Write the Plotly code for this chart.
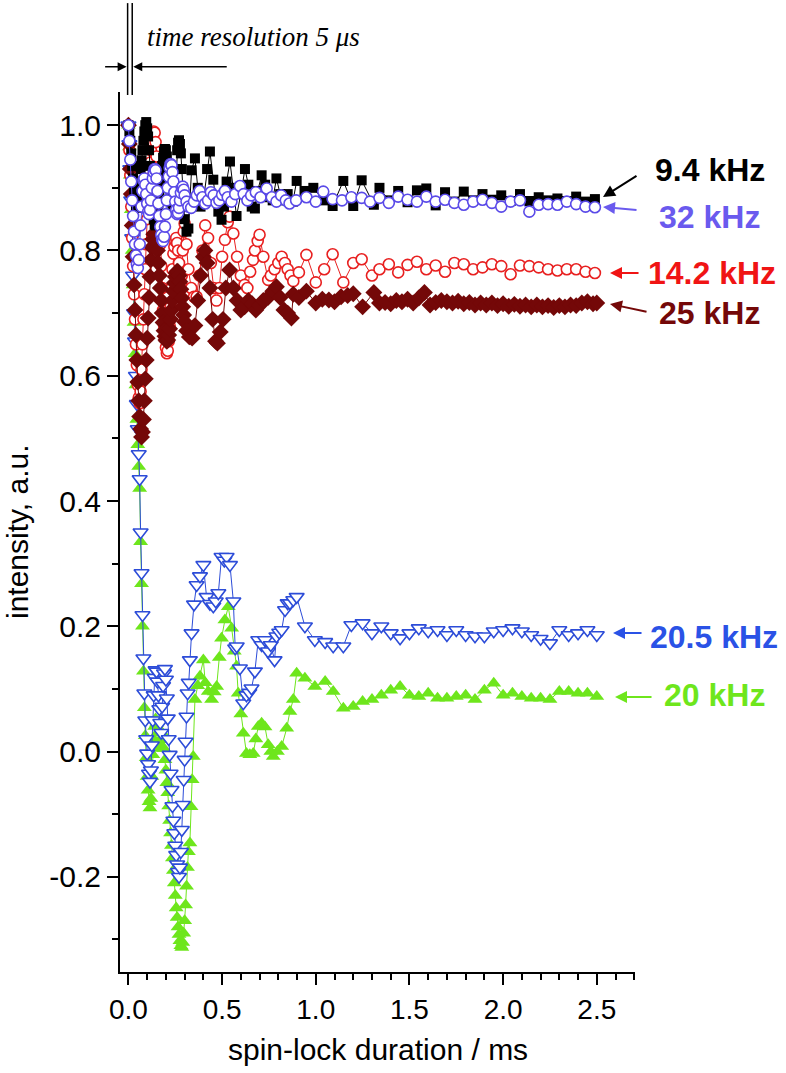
import plotly.graph_objects as go

# ---------------- data (time in ms, normalised intensity) ----------------
T_DENSE = [0.000, 0.005, 0.010, 0.015, 0.020, 0.025, 0.030, 0.035, 0.040, 0.045,
           0.050, 0.055, 0.060, 0.065, 0.070, 0.075, 0.080, 0.085, 0.090, 0.095,
           0.100, 0.105, 0.110, 0.115, 0.120, 0.125, 0.130, 0.135, 0.140, 0.145,
           0.150, 0.155, 0.160, 0.165, 0.170, 0.175, 0.180, 0.185, 0.190, 0.195,
           0.200, 0.205, 0.210, 0.215, 0.220, 0.225, 0.230, 0.235, 0.240, 0.245,
           0.250, 0.255, 0.260, 0.265, 0.270, 0.275, 0.280, 0.285, 0.290, 0.295, 0.300]

# 9.4 kHz (black squares)
K94_DENSE = [1.000, 0.990, 0.975, 0.955, 0.935, 0.915, 0.897, 0.880, 0.870, 0.868,
             0.875, 0.890, 0.910, 0.930, 0.944, 0.960, 0.975, 0.990, 1.000, 1.005,
             0.995, 0.982, 0.960, 0.935, 0.910, 0.885, 0.865, 0.850, 0.842, 0.840,
             0.848, 0.860, 0.875, 0.890, 0.905, 0.920, 0.935, 0.948, 0.958, 0.962,
             0.960, 0.950, 0.935, 0.920, 0.905, 0.890, 0.878, 0.870, 0.868, 0.875,
             0.900, 0.930, 0.960, 0.972, 0.976, 0.970, 0.955, 0.930, 0.900, 0.870, 0.850]
K94_T = [0.310, 0.320, 0.337, 0.355, 0.370, 0.385, 0.400, 0.420, 0.435, 0.453,
         0.466, 0.480, 0.497, 0.510, 0.524, 0.542, 0.560, 0.577, 0.600, 0.622,
         0.640, 0.658, 0.675, 0.690, 0.711, 0.730, 0.750, 0.770, 0.790, 0.810,
         0.830, 0.850, 0.878, 0.898, 0.940, 0.987, 1.040, 1.090, 1.147, 1.200,
         1.245, 1.310, 1.340, 1.390, 1.440, 1.490, 1.540, 1.590, 1.640, 1.690,
         1.740, 1.790, 1.840, 1.890, 1.940, 1.990, 2.040, 2.090, 2.140, 2.190,
         2.240, 2.290, 2.340, 2.390, 2.440, 2.490]
K94_V = [0.830, 0.835, 0.928, 0.947, 0.900, 0.870, 0.880, 0.930, 0.958, 0.913,
         0.880, 0.862, 0.849, 0.870, 0.910, 0.942, 0.900, 0.855, 0.890, 0.930,
         0.905, 0.870, 0.867, 0.895, 0.920, 0.905, 0.885, 0.880, 0.915, 0.890,
         0.880, 0.890, 0.878, 0.911, 0.895, 0.900, 0.880, 0.871, 0.911, 0.871,
         0.912, 0.873, 0.900, 0.880, 0.895, 0.877, 0.896, 0.899, 0.872, 0.893,
         0.878, 0.894, 0.880, 0.890, 0.881, 0.888, 0.879, 0.890, 0.879, 0.885,
         0.880, 0.883, 0.879, 0.886, 0.878, 0.882]

# 32 kHz (violet open circles)
K32_DENSE = [1.000, 0.975, 0.945, 0.910, 0.880, 0.855, 0.830, 0.810, 0.792, 0.778,
             0.772, 0.785, 0.810, 0.840, 0.870, 0.895, 0.912, 0.915, 0.905, 0.890,
             0.875, 0.862, 0.858, 0.865, 0.880, 0.900, 0.915, 0.925, 0.930, 0.928,
             0.915, 0.895, 0.875, 0.855, 0.838, 0.825, 0.818, 0.815, 0.822, 0.838,
             0.858, 0.880, 0.900, 0.918, 0.932, 0.938, 0.936, 0.925, 0.910, 0.893,
             0.878, 0.865, 0.858, 0.860, 0.868, 0.880, 0.892, 0.900, 0.902, 0.897, 0.888]
K32_T = [0.310, 0.320, 0.335, 0.350, 0.365, 0.380, 0.395, 0.410, 0.425, 0.440,
         0.455, 0.470, 0.485, 0.500, 0.515, 0.530, 0.550, 0.570, 0.595, 0.615,
         0.635, 0.655, 0.680, 0.705, 0.738, 0.765, 0.790, 0.815, 0.840, 0.860,
         0.895, 0.950, 1.000, 1.040, 1.090, 1.140, 1.190, 1.245, 1.290, 1.340,
         1.390, 1.440, 1.490, 1.540, 1.590, 1.640, 1.690, 1.740, 1.790, 1.840,
         1.890, 1.940, 1.990, 2.040, 2.090, 2.140, 2.190, 2.240, 2.290, 2.340,
         2.390, 2.440, 2.490]
K32_V = [0.878, 0.870, 0.868, 0.878, 0.888, 0.895, 0.885, 0.875, 0.880, 0.893,
         0.888, 0.876, 0.880, 0.889, 0.895, 0.885, 0.878, 0.890, 0.903, 0.890,
         0.880, 0.888, 0.893, 0.885, 0.899, 0.885, 0.878, 0.888, 0.880, 0.875,
         0.880, 0.885, 0.878, 0.894, 0.882, 0.880, 0.885, 0.884, 0.878, 0.884,
         0.876, 0.886, 0.881, 0.878, 0.886, 0.878, 0.881, 0.876, 0.873, 0.878,
         0.881, 0.876, 0.870, 0.878, 0.880, 0.862, 0.873, 0.874, 0.873, 0.878,
         0.874, 0.870, 0.869]

# 14.2 kHz (red open circles)
K142_DENSE = [1.000, 0.960, 0.920, 0.870, 0.820, 0.775, 0.730, 0.690, 0.650, 0.617,
              0.585, 0.565, 0.556, 0.575, 0.610, 0.650, 0.690, 0.730, 0.770, 0.810,
              0.850, 0.885, 0.915, 0.940, 0.960, 0.975, 0.985, 0.990, 0.988, 0.973,
              0.950, 0.920, 0.885, 0.850, 0.810, 0.775, 0.740, 0.705, 0.680, 0.660,
              0.645, 0.636, 0.640, 0.655, 0.680, 0.710, 0.740, 0.770, 0.795, 0.806,
              0.815, 0.820, 0.812, 0.800, 0.780, 0.760, 0.745, 0.760, 0.800, 0.830, 0.843]
K142_T = [0.310, 0.320, 0.335, 0.350, 0.364, 0.380, 0.395, 0.410, 0.425, 0.440,
          0.455, 0.470, 0.485, 0.500, 0.515, 0.530, 0.540, 0.560, 0.580, 0.600,
          0.620, 0.635, 0.650, 0.665, 0.675, 0.690, 0.700, 0.720, 0.746, 0.760,
          0.780, 0.800, 0.818, 0.835, 0.850, 0.865, 0.880, 0.910, 0.950, 1.000,
          1.045, 1.090, 1.147, 1.200, 1.245, 1.300, 1.340,
          1.390, 1.440, 1.490, 1.540, 1.590, 1.640, 1.690, 1.740, 1.790, 1.840,
          1.890, 1.940, 1.990, 2.040, 2.090, 2.140, 2.190, 2.240, 2.290, 2.340,
          2.390, 2.440, 2.490]
K142_V = [0.810, 0.770, 0.740, 0.726, 0.726, 0.760, 0.800, 0.840, 0.820, 0.780,
          0.740, 0.720, 0.740, 0.790, 0.817, 0.845, 0.854, 0.827, 0.790, 0.760,
          0.745, 0.740, 0.766, 0.785, 0.800, 0.815, 0.825, 0.790, 0.753, 0.760,
          0.770, 0.780, 0.790, 0.780, 0.770, 0.760, 0.751, 0.765, 0.793, 0.749,
          0.770, 0.794, 0.749, 0.780, 0.786, 0.760, 0.770,
          0.778, 0.765, 0.777, 0.782, 0.770, 0.776, 0.766, 0.780, 0.778, 0.770,
          0.773, 0.778, 0.775, 0.762, 0.776, 0.775, 0.773, 0.770, 0.768, 0.770,
          0.770, 0.766, 0.764]

# 25 kHz (dark red diamonds)
K25_DENSE = [1.000, 0.970, 0.930, 0.890, 0.840, 0.790, 0.745, 0.705, 0.665, 0.625,
             0.590, 0.560, 0.535, 0.515, 0.502, 0.510, 0.530, 0.560, 0.595, 0.625,
             0.660, 0.692, 0.725, 0.758, 0.785, 0.805, 0.818, 0.826, 0.828, 0.825,
             0.815, 0.800, 0.780, 0.760, 0.740, 0.720, 0.700, 0.685, 0.672, 0.663,
             0.657, 0.655, 0.657, 0.665, 0.675, 0.690, 0.705, 0.720, 0.735, 0.748,
             0.758, 0.764, 0.767, 0.766, 0.760, 0.750, 0.738, 0.724, 0.710, 0.697, 0.686]
K25_T = [0.310, 0.325, 0.340, 0.355, 0.370, 0.385, 0.400, 0.408, 0.420, 0.435,
         0.450, 0.465, 0.475, 0.490, 0.505, 0.520, 0.540, 0.560, 0.580, 0.600,
         0.620, 0.640, 0.660, 0.680, 0.700, 0.720, 0.745, 0.770, 0.790, 0.810,
         0.830, 0.850, 0.870, 0.880, 0.910, 0.950, 1.000, 1.035, 1.070, 1.100,
         1.135, 1.170, 1.200, 1.250, 1.310, 1.340,
         1.370, 1.400, 1.430, 1.460, 1.490, 1.520, 1.550, 1.580, 1.610, 1.640,
         1.670, 1.700, 1.730, 1.760, 1.790, 1.820, 1.850, 1.880, 1.910, 1.940,
         1.970, 2.000, 2.030, 2.060, 2.090, 2.120, 2.150, 2.180, 2.210, 2.240,
         2.270, 2.300, 2.330, 2.360, 2.390, 2.420, 2.450, 2.480, 2.500]
K25_V = [0.672, 0.662, 0.660, 0.680, 0.720, 0.760, 0.790, 0.800, 0.780, 0.740,
         0.690, 0.655, 0.652, 0.670, 0.690, 0.740, 0.769, 0.740, 0.720, 0.705,
         0.710, 0.720, 0.715, 0.705, 0.712, 0.720, 0.725, 0.735, 0.742, 0.725,
         0.705, 0.700, 0.692, 0.730, 0.725, 0.735, 0.716, 0.722, 0.721, 0.718,
         0.726, 0.728, 0.731, 0.710, 0.733, 0.716,
         0.717, 0.715, 0.720, 0.718, 0.722, 0.716, 0.724, 0.733, 0.713, 0.717,
         0.720, 0.718, 0.716, 0.719, 0.715, 0.717, 0.713, 0.716, 0.713, 0.716,
         0.712, 0.715, 0.711, 0.714, 0.711, 0.713, 0.710, 0.713, 0.710, 0.712,
         0.709, 0.712, 0.710, 0.713, 0.712, 0.716, 0.718, 0.715, 0.716]

# 20.5 kHz (blue open down-triangles)
K205_DENSE = [1.000, 0.970, 0.930, 0.880, 0.820, 0.760, 0.700, 0.655, 0.600, 0.555,
              0.515, 0.475, 0.435, 0.350, 0.285, 0.218, 0.149, 0.093, 0.050, 0.020,
              -0.003, -0.020, -0.035, -0.048, -0.030, 0.010, 0.050, 0.090, 0.118, 0.130,
              0.128, 0.112, 0.090, 0.068, 0.046, 0.030, 0.072, 0.105, 0.125, 0.132,
              0.115, 0.085, 0.053, 0.020, -0.005, -0.035, -0.061, -0.087, -0.110, -0.130,
              -0.150, -0.165, -0.180, -0.192, -0.200, -0.185, -0.160, -0.125, -0.085, -0.045, -0.013]
K205_T = [0.305, 0.310, 0.316, 0.322, 0.328, 0.337, 0.350, 0.364, 0.382, 0.400,
          0.417, 0.435, 0.453, 0.466, 0.480, 0.497, 0.512, 0.524, 0.542, 0.560,
          0.570, 0.578, 0.595, 0.613, 0.630, 0.645, 0.657, 0.675, 0.693, 0.711,
          0.729, 0.745, 0.760, 0.780, 0.790, 0.805, 0.818, 0.836, 0.850, 0.862,
          0.880, 0.898, 0.942, 0.995, 1.050, 1.093, 1.147, 1.190, 1.250, 1.300,
          1.350, 1.400, 1.450, 1.500, 1.550, 1.600, 1.650, 1.700, 1.750, 1.800,
          1.850, 1.900, 1.950, 2.000, 2.050, 2.100, 2.150, 2.200, 2.250, 2.300,
          2.350, 2.400, 2.450, 2.500]
K205_V = [0.016, 0.056, 0.093, 0.110, 0.146, 0.189, 0.235, 0.266, 0.280, 0.298,
          0.247, 0.236, 0.232, 0.240, 0.253, 0.311, 0.305, 0.311, 0.298, 0.240,
          0.165, 0.168, 0.133, 0.077, 0.090, 0.094, 0.101, 0.128, 0.178, 0.170,
          0.178, 0.160, 0.170, 0.146, 0.184, 0.190, 0.194, 0.226, 0.237, 0.237,
          0.242, 0.247, 0.200, 0.178, 0.175, 0.168, 0.168, 0.202, 0.205, 0.189,
          0.200, 0.189, 0.181, 0.189, 0.197, 0.192, 0.194, 0.186, 0.194, 0.186,
          0.184, 0.184, 0.192, 0.194, 0.197, 0.192, 0.186, 0.180, 0.173, 0.194,
          0.186, 0.189, 0.194, 0.186]

# 20 kHz (green filled up-triangles)
K20_DENSE = [1.000, 0.965, 0.920, 0.865, 0.800, 0.745, 0.685, 0.635, 0.585, 0.530,
             0.490, 0.455, 0.420, 0.335, 0.268, 0.200, 0.128, 0.070, 0.025, -0.010,
             -0.040, -0.062, -0.080, -0.090, -0.075, -0.040, -0.005, 0.020, 0.040, 0.052,
             0.045, 0.030, 0.015, 0.005, 0.010, 0.019, 0.030, 0.020, 0.005, -0.013,
             -0.030, -0.050, -0.066, -0.087, -0.110, -0.130, -0.150, -0.170, -0.190, -0.210,
             -0.230, -0.250, -0.265, -0.280, -0.292, -0.302, -0.310, -0.313, -0.305, -0.290, -0.270]
K20_T = [0.305, 0.310, 0.315, 0.320, 0.328, 0.334, 0.340, 0.346, 0.355, 0.370,
         0.382, 0.400, 0.410, 0.426, 0.444, 0.458, 0.471, 0.485, 0.497, 0.515,
         0.533, 0.551, 0.565, 0.577, 0.586, 0.600, 0.613, 0.630, 0.648, 0.666,
         0.680, 0.693, 0.711, 0.729, 0.746, 0.760, 0.773, 0.795, 0.818, 0.845,
         0.862, 0.880, 0.898, 0.942, 0.995, 1.050, 1.093, 1.147, 1.200, 1.250,
         1.300, 1.350, 1.400, 1.450, 1.500, 1.550, 1.600, 1.650, 1.700, 1.750,
         1.800, 1.850, 1.900, 1.950, 2.000, 2.050, 2.100, 2.150, 2.200, 2.250,
         2.300, 2.350, 2.400, 2.450, 2.500]
K20_V = [-0.245, -0.215, -0.185, -0.160, -0.146, -0.088, -0.045, -0.008, 0.083, 0.105,
         0.120, 0.146, 0.110, 0.096, 0.083, 0.095, 0.104, 0.150, 0.181, 0.210,
         0.231, 0.197, 0.160, 0.136, 0.093, 0.060, 0.029, -0.003, -0.005, -0.003,
         0.020, 0.040, 0.045, 0.039, 0.011, 0.000, -0.008, 0.000, 0.008, 0.037,
         0.064, 0.083, 0.125, 0.117, 0.104, 0.112, 0.096, 0.069, 0.072, 0.080,
         0.083, 0.090, 0.098, 0.104, 0.090, 0.088, 0.093, 0.085, 0.085, 0.088,
         0.090, 0.083, 0.098, 0.109, 0.090, 0.093, 0.088, 0.085, 0.085, 0.083,
         0.096, 0.096, 0.093, 0.093, 0.088]

SERIES_LABELS = ["9.4 kHz", "32 kHz", "14.2 kHz", "25 kHz", "20.5 kHz", "20 kHz"]
X_TICKS = [0.0, 0.5, 1.0, 1.5, 2.0, 2.5]
X_TICK_LABELS = ["0.0", "0.5", "1.0", "1.5", "2.0", "2.5"]
Y_TICKS = [-0.2, 0.0, 0.2, 0.4, 0.6, 0.8, 1.0]
Y_TICK_LABELS = ["-0.2", "0.0", "0.2", "0.4", "0.6", "0.8", "1.0"]

# ---------------- styling ----------------
SANS = "Liberation Sans, Arial, sans-serif"
SERIF = "Liberation Serif, Times New Roman, serif"
C_BLACK = "#000000"
C_VIOLET = "#5a4ae8"
C_RED = "#e82020"
C_DRED = "#740808"
C_BLUE = "#2c4cd8"
C_GREEN = "#6ee61c"

fig = go.Figure()


def add(t_late, dense, late, color, symbol, size, filled):
    if filled:
        marker = dict(symbol=symbol, size=size, color=color, line=dict(width=0))
    else:
        marker = dict(symbol=symbol, size=size, color="white",
                      line=dict(width=1.6, color=color))
    fig.add_trace(go.Scatter(x=T_DENSE + t_late, y=dense + late,
                             mode="lines+markers",
                             line=dict(color=color, width=1),
                             marker=marker, showlegend=False))


add(K20_T, K20_DENSE, K20_V, C_GREEN, "triangle-up", 13, True)
add(K205_T, K205_DENSE, K205_V, C_BLUE, "triangle-down", 13, False)
add(K142_T, K142_DENSE, K142_V, C_RED, "circle", 11, False)
add(K25_T, K25_DENSE, K25_V, C_DRED, "diamond", 13, True)
add(K94_T, K94_DENSE, K94_V, C_BLACK, "square", 10, True)
add(K32_T, K32_DENSE, K32_V, C_VIOLET, "circle", 11, False)

axis_common = dict(showline=True, linecolor="black", linewidth=2, mirror=False,
                   showgrid=False, zeroline=False, ticks="outside", ticklen=11,
                   tickwidth=2, tickcolor="black")

fig.update_xaxes(range=[-0.045, 2.704], tickmode="array", tickvals=X_TICKS,
                 ticktext=X_TICK_LABELS,
                 tickfont=dict(family=SANS, size=28, color="black"),
                 minor=dict(ticks="outside", ticklen=6, tickwidth=2,
                            tickcolor="black", dtick=0.1, tick0=0),
                 **axis_common)
fig.update_yaxes(range=[-0.352, 1.053], tickmode="array", tickvals=Y_TICKS,
                 ticktext=Y_TICK_LABELS,
                 tickfont=dict(family=SANS, size=30, color="black"),
                 minor=dict(ticks="outside", ticklen=6, tickwidth=2,
                            tickcolor="black", dtick=0.1, tick0=0),
                 **axis_common)

annotations = []
# axis titles
annotations.append(dict(text="intensity, a.u.", xref="paper", yref="paper",
                        x=-0.2, y=0.5, xanchor="center", yanchor="middle",
                        textangle=-90, showarrow=False,
                        font=dict(family=SANS, size=30, color="black")))
annotations.append(dict(text="spin-lock duration / ms", xref="paper", yref="paper",
                        x=0.5, y=-0.0886, xanchor="center", yanchor="middle",
                        showarrow=False,
                        font=dict(family=SANS, size=30, color="black")))

# curve labels with arrows
LABEL_POS = [(1.1456, 0.9114), (1.1437, 0.858), (1.1495, 0.7943),
             (1.1437, 0.7489), (1.1534, 0.3807), (1.1553, 0.3148)]
LABEL_COL = [C_BLACK, "#6a5aee", "#f01414", C_DRED, "#2a52e6", C_GREEN]
ARROW_TIP = [(0.9379, 0.8807), (0.9379, 0.8693), (0.9515, 0.7943),
             (0.9515, 0.7591), (0.9573, 0.3852), (0.9612, 0.3125)]
ARROW_OFF = [(35, -22), (35, 3), (30, 0), (38, 8), (30, 0), (38, 0)]
for lab, (lx, ly), col, (tx, ty), (ax, ay) in zip(SERIES_LABELS, LABEL_POS, LABEL_COL,
                                                  ARROW_TIP, ARROW_OFF):
    annotations.append(dict(text="<b>%s</b>" % lab, xref="paper", yref="paper",
                            x=lx, y=ly, xanchor="center", yanchor="middle",
                            showarrow=False,
                            font=dict(family=SANS, size=32, color=col)))
    annotations.append(dict(text="", xref="paper", yref="paper", x=tx, y=ty,
                            ax=ax, ay=ay, showarrow=True, arrowhead=2,
                            arrowsize=1.2, arrowwidth=2, arrowcolor=col))

# time-resolution marker
annotations.append(dict(text="<i>time resolution 5 \u03bcs</i>", xref="paper",
                        yref="paper", x=0.26, y=1.0625, xanchor="center",
                        yanchor="middle", showarrow=False,
                        font=dict(family=SERIF, size=27, color="black")))
annotations.append(dict(text="", xref="x", yref="paper", x=-0.0096, y=1.0288,
                        ax=-23, ay=0, showarrow=True, arrowhead=2, arrowsize=1.2,
                        arrowwidth=1.5, arrowcolor="black"))
annotations.append(dict(text="", xref="x", yref="paper", x=0.0256, y=1.0288,
                        ax=95, ay=0, showarrow=True, arrowhead=2, arrowsize=1.2,
                        arrowwidth=1.5, arrowcolor="black"))

shapes = [dict(type="line", xref="x", yref="paper", x0=-0.0043, x1=-0.0043,
               y0=0.9966, y1=1.101, line=dict(color="black", width=1.5)),
          dict(type="line", xref="x", yref="paper", x0=0.0203, x1=0.0203,
               y0=0.9966, y1=1.101, line=dict(color="black", width=1.5))]

fig.update_layout(width=786, height=1073, autosize=False,
                  margin=dict(l=120, r=151, t=92, b=101),
                  paper_bgcolor="white", plot_bgcolor="white",
                  annotations=annotations, shapes=shapes, showlegend=False)

# remove the browser's default 8px page margin so the figure sits at (0, 0)
fig.write_html("out.html",
               config={"displayModeBar": False},
               post_script="document.body.style.margin='0';"
                           "document.documentElement.style.overflow='hidden';")
